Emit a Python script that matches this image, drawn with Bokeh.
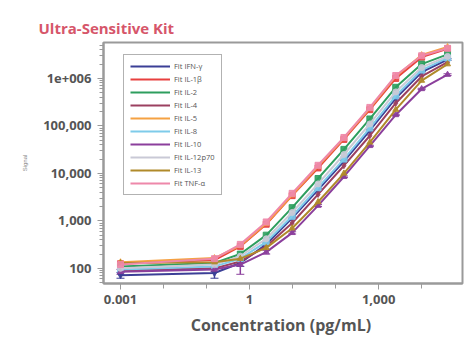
from bokeh.plotting import figure
from bokeh.models import (FixedTicker, LogTicker, CustomJSTickFormatter, Legend,
                          LegendItem, ColumnDataSource, Whisker, Range1d)
from bokeh.embed import file_html
from bokeh.resources import INLINE

title = "Ultra-Sensitive Kit"
x_label = "Concentration  (pg/mL)"
y_label = "Signal"

conc = [0.001, 0.153, 0.61, 2.44, 9.77, 39.1, 156, 625, 2500, 10000, 40000]

names = ["Fit IFN-γ", "Fit IL-1β", "Fit IL-2", "Fit IL-4", "Fit IL-5",
         "Fit IL-8", "Fit IL-10", "Fit IL-12p70", "Fit IL-13", "Fit TNF-α"]

ifn_g = [72, 80, 130, 320, 1150, 4500, 18000, 80000, 380000, 1350000, 2500000]
il_1b = [125, 150, 290, 850, 3400, 13000, 52000, 220000, 1000000, 2800000, 4200000]
il_2 = [110, 130, 200, 500, 1900, 7800, 32000, 140000, 650000, 2000000, 3200000]
il_4 = [90, 100, 140, 290, 900, 3600, 14500, 62000, 300000, 1100000, 2200000]
il_5 = [135, 165, 300, 880, 3500, 14000, 55000, 235000, 1100000, 3100000, 4600000]
il_8 = [95, 110, 160, 360, 1250, 5000, 20000, 90000, 430000, 1500000, 2700000]
il_10 = [85, 95, 120, 220, 560, 2100, 8500, 38000, 170000, 600000, 1200000]
il_12p70 = [100, 120, 180, 420, 1500, 6000, 25000, 110000, 520000, 1700000, 2900000]
il_13 = [130, 135, 160, 270, 700, 2500, 10000, 45000, 220000, 900000, 2000000]
tnf_a = [120, 160, 320, 950, 3800, 14800, 57000, 245000, 1150000, 3000000, 4300000]

# error bars (low, high)
ifn_g_lo = [62, 62, 110, 300, 1100, 4300, 17000, 77000, 370000, 1300000, 2400000]
ifn_g_hi = [82, 98, 150, 340, 1200, 4700, 19000, 83000, 390000, 1400000, 2600000]
il_10_lo = [75, 85, 75, 200, 530, 2000, 8200, 37000, 165000, 580000, 1150000]
il_10_hi = [95, 105, 150, 240, 590, 2200, 8800, 39000, 175000, 620000, 1250000]

series = [ifn_g, il_1b, il_2, il_4, il_5, il_8, il_10, il_12p70, il_13, tnf_a]
colors = ["#3b3f96", "#e8403f", "#2e9e5e", "#9b4060", "#f5a142",
          "#7ecbea", "#8b3f9c", "#c9c9d6", "#b08a2a", "#ee88aa"]
markers = ["inverted_triangle", "square", "square", "diamond", "triangle",
           "square", "triangle", "circle", "triangle", "square"]

x_major = [0.001, 1, 1000]
x_minor = [0.01, 0.1, 10, 100, 10000, 100000]

p = figure(width=472, height=347, x_axis_type="log", y_axis_type="log",
           x_range=Range1d(10 ** -3.395, 10 ** 4.95), y_range=Range1d(48, 5.7e6),
           output_backend="svg", toolbar_location=None,
           min_border_left=103, min_border_right=10, min_border_top=42, min_border_bottom=64)

p.title.text = title
p.title.align = "left"
p.title.offset = -65
p.title.text_color = "#d6566a"
p.title.text_font = "Open Sans"
p.title.text_font_size = "15px"
p.title.text_font_style = "bold"

p.xgrid.visible = False
p.ygrid.visible = False
p.outline_line_color = "#9a9a9a"
p.outline_line_width = 2
p.background_fill_color = "white"
p.border_fill_color = "white"

items = []
for name, vals, c, m in zip(names, series, colors, markers):
    src = ColumnDataSource(dict(x=conc, y=vals))
    r = p.line("x", "y", source=src, line_color=c, line_width=2)
    p.scatter("x", "y", source=src, marker=m, size=6, fill_color=c, line_color=c, alpha=0.9)
    items.append(LegendItem(label=name, renderers=[r]))

for lo, hi, c in [(ifn_g_lo, ifn_g_hi, colors[0]), (il_10_lo, il_10_hi, colors[6])]:
    ws = ColumnDataSource(dict(x=conc, lo=lo, hi=hi))
    w = Whisker(base="x", lower="lo", upper="hi", source=ws, line_color=c, line_width=1.5)
    w.upper_head.size = 8
    w.lower_head.size = 8
    w.upper_head.line_color = c
    w.lower_head.line_color = c
    p.add_layout(w)

legend = Legend(items=items, location=(20, 88), label_text_font_size="7.5px",
                label_text_color="#555555", label_text_font="Open Sans",
                glyph_width=40, glyph_height=10, label_height=10, spacing=3,
                label_standoff=4, padding=6, margin=0,
                border_line_color="#666666", border_line_width=1.5,
                background_fill_alpha=1)
p.add_layout(legend)

fmt_x = CustomJSTickFormatter(code="return tick.toLocaleString('en-US', {maximumFractionDigits: 3});")
fmt_y = CustomJSTickFormatter(code="if (tick >= 999999) { return '1e+006'; } return tick.toLocaleString('en-US');")

xa = p.xaxis[0]
xa.ticker = FixedTicker(ticks=x_major, minor_ticks=x_minor)
xa.formatter = fmt_x
xa.axis_label = x_label
xa.axis_label_text_font = "Open Sans"
xa.axis_label_text_font_size = "16px"
xa.axis_label_text_font_style = "bold"
xa.axis_label_text_color = "#555555"
xa.axis_label_standoff = 7
xa.major_label_text_font = "Open Sans"
xa.major_label_text_font_size = "13px"
xa.major_label_text_font_style = "bold"
xa.major_label_text_color = "#555555"
xa.major_label_standoff = 5

ya = p.yaxis[0]
ya.ticker = LogTicker(num_minor_ticks=10)
ya.formatter = fmt_y
ya.axis_label = y_label
ya.axis_label_text_font_size = "6px"
ya.axis_label_text_color = "#888888"
ya.axis_label_text_font_style = "normal"
ya.axis_label_standoff = 12
ya.major_label_text_font = "Open Sans"
ya.major_label_text_font_size = "13px"
ya.major_label_text_font_style = "bold"
ya.major_label_text_color = "#555555"
ya.major_label_standoff = 6

for ax in (xa, ya):
    ax.axis_line_color = "#9a9a9a"
    ax.axis_line_width = 2
    ax.major_tick_line_color = "#9a9a9a"
    ax.minor_tick_line_color = "#9a9a9a"
    ax.major_tick_out = 6
    ax.major_tick_in = 0
    ax.minor_tick_out = 5
    ax.minor_tick_in = 0
ya.minor_tick_out = 4

open("out.html", "w").write(file_html(p, INLINE))
